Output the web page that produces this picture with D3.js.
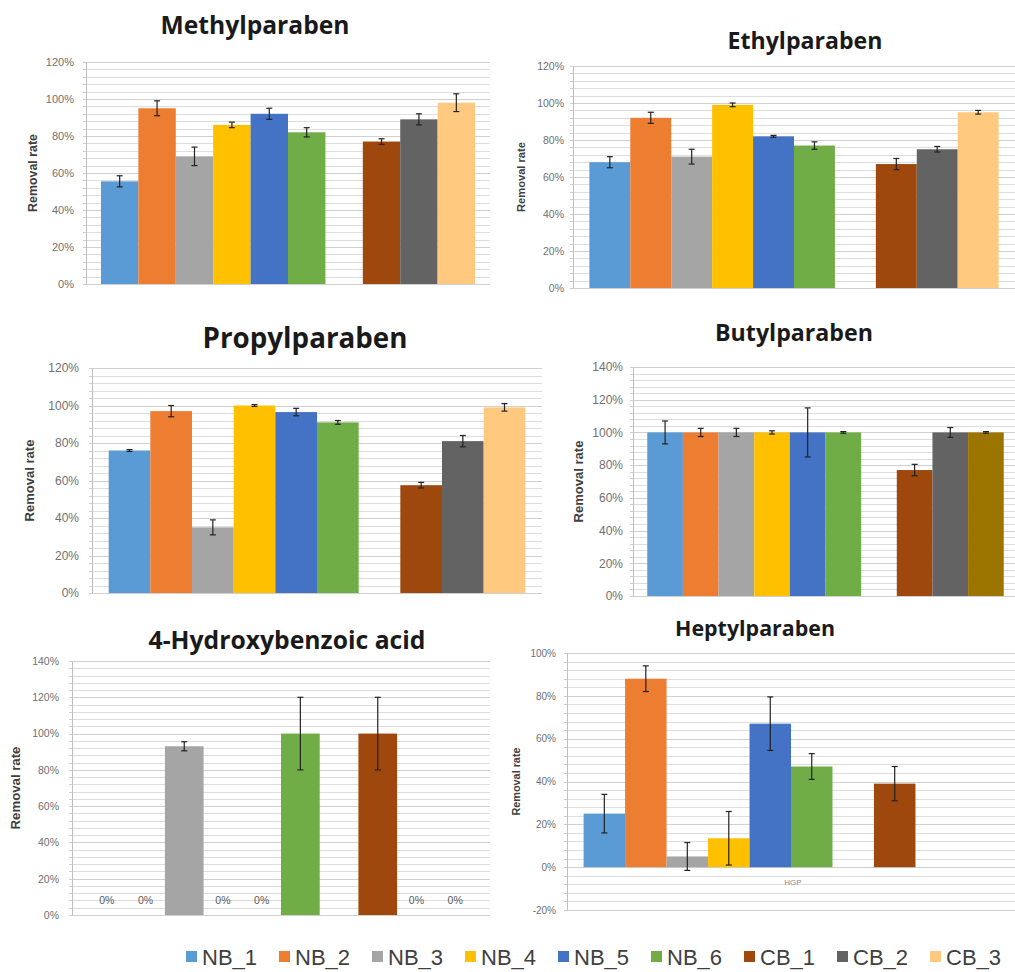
<!DOCTYPE html>
<html><head><meta charset="utf-8">
<script src="https://cdn.jsdelivr.net/npm/d3@7"></script>
<style>body{margin:0;background:#fff} svg{display:block}</style></head>
<body>
<svg id="c" width="1015" height="972"></svg>
<script>
// ---------------- data ----------------
const seriesNames = ["NB_1","NB_2","NB_3","NB_4","NB_5","NB_6","CB_1","CB_2","CB_3"];
const slotKeys = ["NB_1","NB_2","NB_3","NB_4","NB_5","NB_6","gap","CB_1","CB_2","CB_3"];
const seriesColors = ["#5B9BD5","#ED7D31","#A5A5A5","#FFC000","#4472C4","#70AD47","#9E480E","#636363","#FFCA80"];
const butylColors  = ["#5B9BD5","#ED7D31","#A5A5A5","#FFC000","#4472C4","#70AD47","#9E480E","#636363","#9C7400"];
const panelTitles = ["Methylparaben","Ethylparaben","Propylparaben","Butylparaben","4-Hydroxybenzoic acid","Heptylparaben"];
const yAxisTitle = "Removal rate";

const methylValues = [55.5,95,69,86,92,82,77,89,98];
const methylErrors = [3,4,5,1.5,3,2.5,1.5,3,4.8];
const ethylValues  = [68,92,71,99,82,77,67,75,95];
const ethylErrors  = [3,3,4,1,0.5,2,3,1.5,1];
const propylValues = [76,97,35,100,96.5,91,57.5,81,99];
const propylErrors = [0.5,3,4,0.5,2,1,1.5,3,2];
const butylValues  = [100,100,100,100,100,100,77,100,100];
const butylErrors  = [7,2.5,2.5,1,15,0.5,3.5,3,0.5];
const hbaValues    = [0,0,93,0,0,100,100,0,0];
const hbaErrors    = [0,0,2.5,0,0,20,20,0,0];
const heptylValues = [25,88,5,13.5,67,47,39,null,null];
const heptylErrors = [9,6,6.5,12.5,12.5,6,8,null,null];

const yMins = [0,0,0,0,0,-20];
const yMaxs = [120,120,120,140,140,100];
const majorStep = 20, minorStep = 4;
const heptylCategory = "HGP";

// ---------------- layout ----------------
const panels = [
  {vals:methylValues, errs:methylErrors, colors:seriesColors, x0:86,  x1:490,  yT:62,  yB:284, tx:255, ty:34,  tw:189, lx:37,  lw:78, tickX:74,  ts:11,   zeroLabels:false},
  {vals:ethylValues,  errs:ethylErrors,  colors:seriesColors, x0:573, x1:1015, yT:66,  yB:288, tx:805, ty:49,  tw:155, lx:525, lw:70, tickX:564, ts:10.5, zeroLabels:false},
  {vals:propylValues, errs:propylErrors, colors:seriesColors, x0:92,  x1:542,  yT:368, yB:593, tx:305, ty:348, tw:205, lx:34,  lw:82, tickX:79,  ts:12,   zeroLabels:false},
  {vals:butylValues,  errs:butylErrors,  colors:butylColors,  x0:633, x1:1018, yT:367, yB:596, tx:794, ty:341, tw:158, lx:583, lw:82, tickX:623, ts:12,   zeroLabels:false},
  {vals:hbaValues,    errs:hbaErrors,    colors:seriesColors, x0:72,  x1:490,  yT:661, yB:915, tx:287, ty:649, tw:277, lx:20,  lw:83, tickX:59,  ts:10.5, zeroLabels:true},
  {vals:heptylValues, errs:heptylErrors, colors:seriesColors, x0:567, x1:1015, yT:653, yB:910, tx:755, ty:636, tw:160, lx:520, lw:68, tickX:556, ts:10,   zeroLabels:false, catLabel:heptylCategory}
];

const svg = d3.select("#c");

function fitFont(sel, base, target) {
  const w = sel.node().getComputedTextLength();
  sel.style("font-size", (base * target / w).toFixed(2) + "px");
}

panels.forEach((p, i) => {
  const g = svg.append("g");
  const x = d3.scaleBand().domain(slotKeys).range([p.x0, p.x1]).paddingInner(0).paddingOuter(0.4);
  const y = d3.scaleLinear().domain([yMins[i], yMaxs[i]]).range([p.yB, p.yT]);

  // gridlines (minor every 4 %, major every 20 %)
  const minorTicks = d3.range(yMins[i], yMaxs[i] + 0.001, minorStep);
  g.selectAll(".minor").data(minorTicks).join("line")
    .attr("x1", p.x0).attr("x2", p.x1)
    .attr("y1", d => Math.round(y(d)) + 0.5).attr("y2", d => Math.round(y(d)) + 0.5)
    .attr("stroke", d => (d % majorStep === 0) ? "#d0d0d0" : "#dedede").attr("stroke-width", 1);

  // y axis
  const axis = d3.axisLeft(y).tickValues(d3.range(yMins[i], yMaxs[i] + 0.001, majorStep))
    .tickFormat(d => d + "%").tickSize(0).tickPadding(p.x0 - p.tickX);
  const ag = g.append("g").attr("transform", `translate(${p.x0},0)`).call(axis);
  ag.select(".domain").attr("stroke", "#bfbfbf");
  ag.selectAll("text").attr("fill", "#707070").style("font-family", "'Liberation Sans', Arial, sans-serif").style("font-size", p.ts + "px");
  g.selectAll(".mt").data(minorTicks).join("line")
    .attr("x1", p.x0 - 3).attr("x2", p.x0)
    .attr("y1", d => Math.round(y(d)) + 0.5).attr("y2", d => Math.round(y(d)) + 0.5)
    .attr("stroke", "#cfcfcf");

  // y axis title
  const yt = g.append("text").attr("transform", `translate(${p.lx},${(p.yT + p.yB) / 2}) rotate(-90)`)
    .attr("text-anchor", "middle").attr("fill", "#404040")
    .style("font-family", "'Liberation Sans', Arial, sans-serif").style("font-weight", "bold").style("font-size", "10px")
    .text(yAxisTitle);
  fitFont(yt, 10, p.lw);

  // bars
  const data = seriesNames.map((s, k) => ({s, v: p.vals[k], e: p.errs[k], c: p.colors[k]}));
  const bars = data.filter(d => d.v !== null && d.v !== 0);
  g.selectAll(".bar").data(bars).join("rect")
    .attr("x", d => x(d.s)).attr("width", x.bandwidth())
    .attr("y", d => y(Math.max(0, d.v))).attr("height", d => Math.abs(y(d.v) - y(0)))
    .attr("fill", d => d.c);

  // error bars
  const eb = bars.filter(d => d.e);
  const cap = 3;
  g.selectAll(".ev").data(eb).join("line")
    .attr("x1", d => x(d.s) + x.bandwidth() / 2).attr("x2", d => x(d.s) + x.bandwidth() / 2)
    .attr("y1", d => y(d.v + d.e)).attr("y2", d => y(d.v - d.e))
    .attr("stroke", "#222").attr("stroke-width", 1.2);
  ["top", "bot"].forEach(w => {
    g.selectAll(".ec" + w).data(eb).join("line")
      .attr("x1", d => x(d.s) + x.bandwidth() / 2 - cap).attr("x2", d => x(d.s) + x.bandwidth() / 2 + cap)
      .attr("y1", d => y(w === "top" ? d.v + d.e : d.v - d.e)).attr("y2", d => y(w === "top" ? d.v + d.e : d.v - d.e))
      .attr("stroke", "#222").attr("stroke-width", 1.2);
  });

  // zero value labels
  if (p.zeroLabels) {
    g.selectAll(".zl").data(data.filter(d => d.v === 0)).join("text")
      .attr("x", d => x(d.s) + x.bandwidth() / 2).attr("y", y(0) - 11)
      .attr("text-anchor", "middle").attr("fill", "#595959")
      .style("font-family", "'Liberation Sans', Arial, sans-serif").style("font-size", "10.5px")
      .text(d => d.v + "%");
  }
  // category label
  if (p.catLabel) {
    g.append("text").attr("x", (p.x0 + p.x1) / 2 + 2).attr("y", y(0) + 18)
      .attr("text-anchor", "middle").attr("fill", "#8c8c8c")
      .style("font-family", "'Liberation Sans', Arial, sans-serif").style("font-size", "8px")
      .text(p.catLabel);
  }

  // title
  const t = g.append("text").attr("x", p.tx).attr("y", p.ty).attr("text-anchor", "middle")
    .attr("fill", "#1a1a1a")
    .style("font-family", "'Open Sans', 'DejaVu Sans', sans-serif").style("font-weight", "bold").style("font-size", "20px")
    .text(panelTitles[i]);
  fitFont(t, 20, p.tw);
});

// legend
const legendX = d3.scalePoint().domain(seriesNames).range([186, 930]);
const items = svg.append("g").selectAll("g").data(seriesNames).join("g")
  .attr("transform", d => `translate(${legendX(d)},957)`);
items.append("rect").attr("x", 0).attr("y", -6).attr("width", 11).attr("height", 11)
  .attr("fill", (d, k) => seriesColors[k]);
items.append("text").attr("x", 16).attr("y", 8)
  .attr("fill", "#404040")
  .style("font-family", "'Liberation Sans Narrow', 'Liberation Sans', Arial, sans-serif").style("font-size", "22px")
  .text(d => d);
</script>
</body></html>
